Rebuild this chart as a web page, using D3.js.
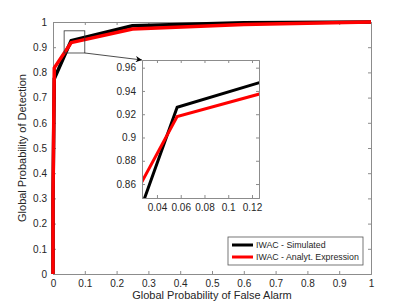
<!DOCTYPE html>
<html>
<head>
<meta charset="utf-8">
<script src="https://cdn.jsdelivr.net/npm/d3@7"></script>
<style>
  body { margin: 0; background: #fff; }
  text { font-family: "Liberation Sans", Arial, sans-serif; fill: #262626; }
</style>
</head>
<body>
<svg id="chart" width="411" height="308"></svg>
<script>
// simulated curve
const simPf = [0, 0, 0.004, 0.057, 0.25, 0.6, 1];
const simPd = [0, 0.3, 0.775, 0.926, 0.985, 0.997, 1];
// analytical expression
const anaPf = [0, 0, 0.004, 0.057, 0.25, 0.6, 1];
const anaPd = [0, 0.3, 0.818, 0.918, 0.972, 0.99, 1];

const mainTicks = [0, 0.1, 0.2, 0.3, 0.4, 0.5, 0.6, 0.7, 0.8, 0.9, 1];
const insetXTicks = [0.04, 0.06, 0.08, 0.1, 0.12];
const insetYTicks = [0.86, 0.88, 0.9, 0.92, 0.94, 0.96];
const legendLabels = ["IWAC - Simulated", "IWAC - Analyt. Expression"];
const colors = ["#000000", "#ff0000"];

const svg = d3.select("#chart");
const axisColor = "#8c8c8c";

// draw one MATLAB-style axes box
function drawAxes(g, x, y, xt, yt, w, h, fontSize) {
  const xa = g.append("g").attr("transform", `translate(0,${h})`)
    .call(d3.axisBottom(x).tickValues(xt).tickSize(-3).tickPadding(6).tickFormat(d3.format("~g")));
  const xa2 = g.append("g")
    .call(d3.axisTop(x).tickValues(xt).tickSize(-3).tickFormat(""));
  const ya = g.append("g")
    .call(d3.axisLeft(y).tickValues(yt).tickSize(-3).tickPadding(6).tickFormat(d3.format("~g")));
  const ya2 = g.append("g").attr("transform", `translate(${w},0)`)
    .call(d3.axisRight(y).tickValues(yt).tickSize(-3).tickFormat(""));
  [xa, xa2, ya, ya2].forEach(a => {
    a.selectAll(".domain").attr("stroke", axisColor);
    a.selectAll(".tick line").attr("stroke", axisColor);
    a.selectAll("text").style("font-size", fontSize + "px").attr("fill", "#262626");
  });
}

// main axes
const m = { left: 53, top: 22, right: 371, bottom: 274 };
const W = m.right - m.left, H = m.bottom - m.top;
const x = d3.scaleLinear().domain([0, 1]).range([0, W]);
const y = d3.scaleLinear().domain([0, 1]).range([H, 0]);
const g = svg.append("g").attr("transform", `translate(${m.left},${m.top})`);

drawAxes(g, x, y, mainTicks, mainTicks, W, H, 10);

const line = (xs, ys, sx, sy) => d3.line().x(d => sx(d[0])).y(d => sy(d[1]))(xs.map((v, i) => [v, ys[i]]));

g.append("path").attr("d", line(simPf, simPd, x, y))
  .attr("fill", "none").attr("stroke", colors[0]).attr("stroke-width", 3.5).attr("stroke-linejoin", "round");
g.append("path").attr("d", line(anaPf, anaPd, x, y))
  .attr("fill", "none").attr("stroke", colors[1]).attr("stroke-width", 3.5).attr("stroke-linejoin", "round");

// zoom rectangle on main axes
const zr = { x0: 0.035, x1: 0.1, y0: 0.877, y1: 0.965 };
g.append("rect")
  .attr("x", x(zr.x0)).attr("y", y(zr.y1))
  .attr("width", x(zr.x1) - x(zr.x0)).attr("height", y(zr.y0) - y(zr.y1))
  .attr("fill", "none").attr("stroke", "#333").attr("stroke-width", 0.8);

// inset axes
const ins = { left: 142, top: 60, right: 259, bottom: 198 };
const iW = ins.right - ins.left, iH = ins.bottom - ins.top;
const ix = d3.scaleLinear().domain([0.0274, 0.1259]).range([0, iW]);
const iy = d3.scaleLinear().domain([0.848, 0.9666]).range([iH, 0]);
const ig = svg.append("g").attr("transform", `translate(${ins.left},${ins.top})`);
ig.append("rect").attr("width", iW).attr("height", iH).attr("fill", "#fff");

// arrow from rectangle to inset
svg.append("defs").append("marker")
  .attr("id", "arrow").attr("viewBox", "0 0 10 10").attr("refX", 10).attr("refY", 5)
  .attr("markerWidth", 9).attr("markerHeight", 9).attr("orient", "auto")
  .append("path").attr("d", "M0,0 L10,5 L0,10 L3,5 Z").attr("fill", "#000");
svg.append("line")
  .attr("x1", m.left + x(zr.x1)).attr("y1", m.top + y(zr.y0))
  .attr("x2", ins.left).attr("y2", ins.top)
  .attr("stroke", "#000").attr("stroke-width", 0.7).attr("marker-end", "url(#arrow)");

ig.append("clipPath").attr("id", "iclip").append("rect").attr("width", iW).attr("height", iH);
const il = ig.append("g").attr("clip-path", "url(#iclip)");
il.append("path").attr("d", line(simPf, simPd, ix, iy))
  .attr("fill", "none").attr("stroke", colors[0]).attr("stroke-width", 3);
il.append("path").attr("d", line(anaPf, anaPd, ix, iy))
  .attr("fill", "none").attr("stroke", colors[1]).attr("stroke-width", 3);
drawAxes(ig, ix, iy, insetXTicks, insetYTicks, iW, iH, 10);

// legend
const lg = svg.append("g").attr("transform", "translate(228,237)");
lg.append("rect").attr("width", 135).attr("height", 28)
  .attr("fill", "#fff").attr("stroke", "#555").attr("stroke-width", 0.8);
legendLabels.forEach((lab, i) => {
  const yy = 8 + i * 12;
  lg.append("line").attr("x1", 4).attr("x2", 25).attr("y1", yy).attr("y2", yy)
    .attr("stroke", colors[i]).attr("stroke-width", 3);
  lg.append("text").attr("x", 28).attr("y", yy + 3).style("font-size", "8.8px").text(lab);
});

// axis labels
svg.append("text").attr("x", (m.left + m.right) / 2).attr("y", 299)
  .attr("text-anchor", "middle").style("font-size", "11px")
  .text("Global Probability of False Alarm");
svg.append("text").attr("transform", `translate(26,${(m.top + m.bottom) / 2}) rotate(-90)`)
  .attr("text-anchor", "middle").style("font-size", "11px")
  .text("Global Probability of Detection");
</script>
</body>
</html>
